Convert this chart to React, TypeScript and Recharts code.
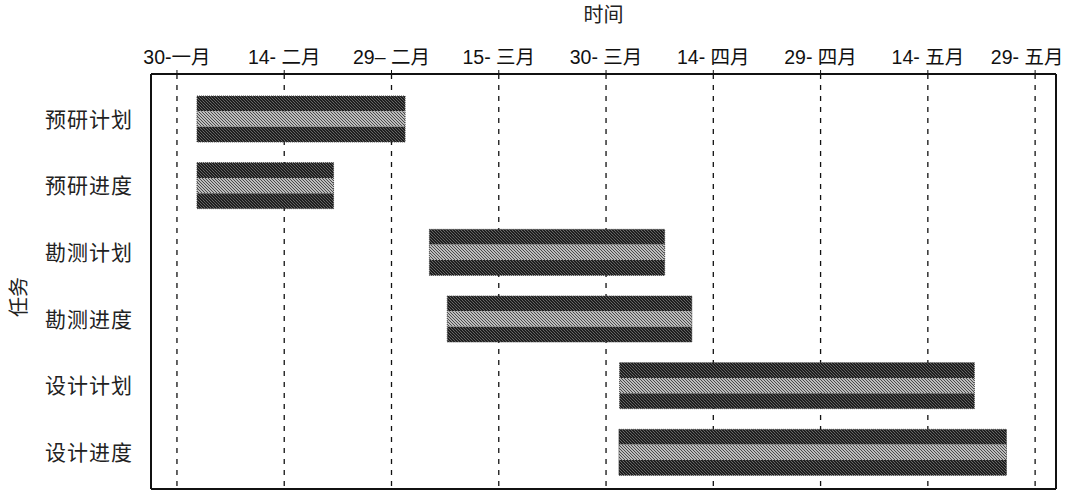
import { BarChart, Bar, XAxis, YAxis, CartesianGrid } from "recharts";

// days counted from 30-一月
const tasks = ["预研计划", "预研进度", "勘测计划", "勘测进度", "设计计划", "设计进度"];
const startDays = [2.8, 2.8, 35.3, 37.8, 61.9, 61.8];
const endDays = [31.9, 21.9, 68.2, 72.0, 111.5, 116.0];

const tickDays = [0, 15, 30, 45, 60, 75, 90, 105, 120];
const tickLabels = ["30-一月", "14- 二月", "29– 二月", "15- 三月", "30- 三月", "14- 四月", "29- 四月", "14- 五月", "29- 五月"];

const data = tasks.map((name, i) => ({ name, span: [startDays[i], endDays[i]] }));

const font = "'Liberation Sans', 'Noto Sans CJK SC', sans-serif";

function StripedBar(props: any) {
  const { x, y, width, height } = props;
  if (width == null || height == null) return null;
  const h = height / 3;
  return (
    <g>
      <rect x={x} y={y} width={width} height={h} fill="url(#hatchDark)" />
      <rect x={x} y={y + h} width={width} height={h} fill="url(#hatchLight)" />
      <rect x={x} y={y + 2 * h} width={width} height={h} fill="url(#hatchDark)" />
      <rect x={x} y={y} width={width} height={height} fill="none" stroke="#444" strokeWidth={1} strokeDasharray="1 1" />
    </g>
  );
}

function TopTick(props: any) {
  const { x, y, payload } = props;
  const idx = tickDays.indexOf(payload.value);
  const label = tickLabels[idx] ?? "";
  // the last label would run past the right edge, nudge it in
  const shift = idx === tickDays.length - 1 ? -8 : 0;
  return (
    <text x={x + shift} y={y} textAnchor="middle" fontSize={19.5} fontFamily={font} fill="#111">
      {label}
    </text>
  );
}

function YTitle() {
  return (
    <text x={26} y={297} transform="rotate(-90 26 297)" textAnchor="middle" fontSize={20} fontFamily={font} fill="#222">
      任务
    </text>
  );
}

export default function App() {
  return (
    <div style={{ position: "absolute", left: 0, top: 0, background: "#fff" }}>
      <BarChart
        width={1070}
        height={501}
        data={data}
        layout="vertical"
        margin={{ top: 0, right: 13, bottom: 11, left: 0 }}
        barCategoryGap={0}
      >
        <defs>
          <pattern id="hatchDark" width="3" height="3" patternUnits="userSpaceOnUse">
            <rect width="3" height="3" fill="#1e1e1e" />
            <path d="M-1,-1 l2,2 M0,0 l3,3 M2,2 l2,2" stroke="#6a6a6a" strokeWidth={0.8} />
          </pattern>
          <pattern id="hatchLight" width="3" height="3" patternUnits="userSpaceOnUse">
            <rect width="3" height="3" fill="#bdbdbd" />
            <path d="M-1,-1 l2,2 M0,0 l3,3 M2,2 l2,2" stroke="#4a4a4a" strokeWidth={1} />
          </pattern>
        </defs>
        <CartesianGrid horizontal={false} stroke="#111" strokeDasharray="5 6" strokeWidth={1.3} />
        <XAxis
          type="number"
          orientation="top"
          height={74}
          domain={[-3.63, 122.92]}
          allowDataOverflow
          ticks={tickDays}
          tick={<TopTick />}
          tickSize={4}
          tickMargin={6}
          axisLine={{ stroke: "#111", strokeWidth: 2 }}
          tickLine={{ stroke: "#111" }}
          label={{ value: "时间", position: "insideTop", offset: 8, fontSize: 20, fontFamily: font, fill: "#222" }}
        />
        <XAxis
          xAxisId="bottom"
          type="number"
          orientation="bottom"
          height={1}
          domain={[-3.63, 122.92]}
          tick={false}
          tickLine={false}
          axisLine={{ stroke: "#111", strokeWidth: 2 }}
        />
        <YAxis
          type="category"
          dataKey="name"
          width={151}
          padding={{ top: 12, bottom: 3 }}
          tickSize={0}
          tickMargin={18}
          tick={{ fontSize: 21, fontFamily: font, fill: "#222", letterSpacing: 1 }}
          axisLine={{ stroke: "#111", strokeWidth: 2 }}
          label={<YTitle />}
        />
        <YAxis
          yAxisId="right"
          type="category"
          dataKey="name"
          orientation="right"
          width={1}
          tick={false}
          tickLine={false}
          axisLine={{ stroke: "#111", strokeWidth: 2 }}
        />
        <Bar dataKey="span" barSize={46} shape={<StripedBar />} isAnimationActive={false} />
      </BarChart>
    </div>
  );
}
